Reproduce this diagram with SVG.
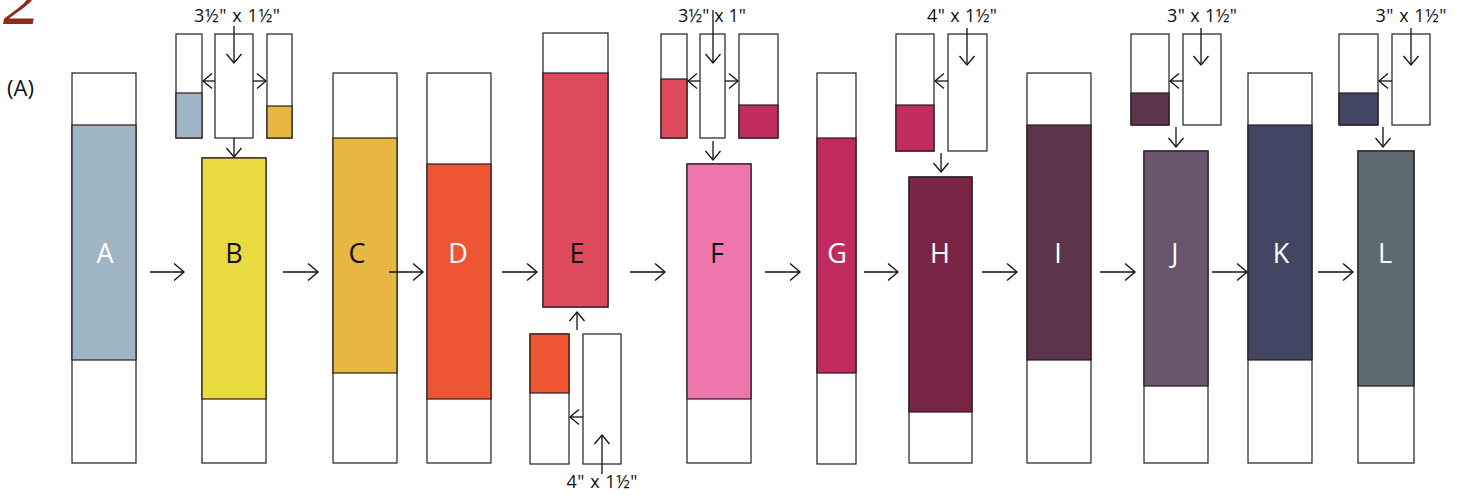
<svg xmlns="http://www.w3.org/2000/svg" width="1461" height="496" viewBox="0 0 1461 496">
<style>
.box{fill:#fff;stroke:#1e1e1e;stroke-width:1.2}
.col{stroke:#2a1a1e;stroke-width:1.2}
.lbl{font-family:"Open Sans","Noto Sans",sans-serif;font-size:27px;text-anchor:middle}
.dim{font-family:"Open Sans","Noto Sans",sans-serif;font-size:18px;text-anchor:middle;fill:#111}
.ar{stroke:#111;stroke-width:1.3;fill:none}
</style>
<defs>
<marker id="big" markerUnits="userSpaceOnUse" markerWidth="20" markerHeight="20" viewBox="-12 -10 14 20" refX="0" refY="0" orient="auto">
<path d="M-10,-8.5 L0,0 L-10,8.5" fill="none" stroke="#111" stroke-width="1.4"/>
</marker>
<marker id="sm" markerUnits="userSpaceOnUse" markerWidth="20" markerHeight="20" viewBox="-12 -10 14 20" refX="0" refY="0" orient="auto">
<path d="M-9,-7.5 L0,0 L-9,7.5" fill="none" stroke="#111" stroke-width="1.3"/>
</marker>
</defs>
<rect width="1461" height="496" fill="#fff"/>
<text x="3" y="24" font-family="Liberation Serif,serif" font-style="italic" font-size="74" fill="#8c2b22">2</text>
<text x="7" y="96" font-family="Open Sans,sans-serif" font-size="22" fill="#111">(A)</text>

<g id="nodeA"><rect class="box" x="72" y="73" width="64" height="390"/><rect class="col" x="72" y="125" width="64" height="235" fill="#9fb5c3"/><text class="lbl" x="105" y="263" fill="#fff">A</text></g>

<g id="nodeB"><rect class="box" x="202" y="158" width="64" height="305"/><rect class="col" x="202" y="158" width="64" height="241" fill="#e9da3f"/><text class="lbl" x="234" y="263" fill="#111">B</text>
<rect class="box" x="176" y="34" width="26" height="104"/><rect class="col" x="176" y="93" width="26" height="45" fill="#9fb5c3"/>
<rect class="box" x="215" y="34" width="38" height="104"/>
<rect class="box" x="267" y="34" width="25" height="104"/><rect class="col" x="267" y="106" width="25" height="32" fill="#e6b743"/>
<text class="dim" x="237" y="22" textLength="86" lengthAdjust="spacing">3½" x 1½"</text></g>

<g id="nodeC"><rect class="box" x="333" y="73" width="64" height="390"/><rect class="col" x="333" y="138" width="64" height="235" fill="#e6b743"/><text class="lbl" x="357" y="263" fill="#111">C</text></g>

<g id="nodeD"><rect class="box" x="427" y="73" width="64" height="390"/><rect class="col" x="427" y="164" width="64" height="235" fill="#ee5533"/><text class="lbl" x="458" y="263" fill="#fff">D</text></g>

<g id="nodeE"><rect class="box" x="543" y="33" width="65" height="274"/><rect class="col" x="543" y="73" width="65" height="234" fill="#dc4a5b"/><text class="lbl" x="577" y="263" fill="#111">E</text>
<rect class="box" x="530" y="334" width="39" height="130"/><rect class="col" x="530" y="334" width="39" height="59" fill="#ee5533"/>
<rect class="box" x="583" y="334" width="38" height="130"/>
<text class="dim" x="602" y="488" textLength="71" lengthAdjust="spacing">4" x 1½"</text></g>

<g id="nodeF"><rect class="box" x="687" y="164" width="64" height="299"/><rect class="col" x="687" y="164" width="64" height="235" fill="#ee76ad"/><text class="lbl" x="717" y="263" fill="#111">F</text>
<rect class="box" x="661" y="34" width="26" height="104"/><rect class="col" x="661" y="79" width="26" height="59" fill="#dc4a5b"/>
<rect class="box" x="700" y="34" width="25" height="104"/>
<rect class="box" x="739" y="34" width="39" height="104"/><rect class="col" x="739" y="105" width="39" height="33" fill="#c02b60"/>
<text class="dim" x="712" y="22" textLength="68" lengthAdjust="spacing">3½" x 1"</text></g>

<g id="nodeG"><rect class="box" x="817" y="73" width="39" height="391"/><rect class="col" x="817" y="138" width="39" height="235" fill="#bf2b5f"/><text class="lbl" x="837" y="263" fill="#fff">G</text></g>

<g id="nodeH"><rect class="box" x="909" y="177" width="63" height="286"/><rect class="col" x="909" y="177" width="63" height="235" fill="#7a2445"/><text class="lbl" x="940" y="263" fill="#fff">H</text>
<rect class="box" x="896" y="34" width="38" height="117"/><rect class="col" x="896" y="105" width="38" height="46" fill="#c02b60"/>
<rect class="box" x="948" y="34" width="39" height="117"/>
<text class="dim" x="962" y="22" textLength="70" lengthAdjust="spacing">4" x 1½"</text></g>

<g id="nodeI"><rect class="box" x="1027" y="73" width="64" height="390"/><rect class="col" x="1027" y="125" width="64" height="235" fill="#5c344b"/><text class="lbl" x="1058" y="263" fill="#fff">I</text></g>

<g id="nodeJ"><rect class="box" x="1144" y="151" width="64" height="312"/><rect class="col" x="1144" y="151" width="64" height="235" fill="#6a556f"/><text class="lbl" x="1175" y="263" fill="#fff">J</text>
<rect class="box" x="1131" y="34" width="38" height="91"/><rect class="col" x="1131" y="93" width="38" height="32" fill="#5c344b"/>
<rect class="box" x="1183" y="34" width="38" height="91"/>
<text class="dim" x="1202" y="22" textLength="70" lengthAdjust="spacing">3" x 1½"</text></g>

<g id="nodeK"><rect class="box" x="1248" y="73" width="64" height="390"/><rect class="col" x="1248" y="125" width="64" height="235" fill="#434662"/><text class="lbl" x="1281" y="263" fill="#fff">K</text></g>

<g id="nodeL"><rect class="box" x="1358" y="151" width="56" height="312"/><rect class="col" x="1358" y="151" width="56" height="235" fill="#5d6a6f"/><text class="lbl" x="1385" y="263" fill="#fff">L</text>
<rect class="box" x="1339" y="34" width="39" height="91"/><rect class="col" x="1339" y="93" width="39" height="32" fill="#434662"/>
<rect class="box" x="1392" y="34" width="38" height="91"/>
<text class="dim" x="1411" y="22" textLength="71" lengthAdjust="spacing">3" x 1½"</text></g>

<g id="connectors">
<path class="ar" marker-end="url(#big)" d="M150,272H184"/>
<path class="ar" marker-end="url(#big)" d="M283,272H318"/>
<path class="ar" marker-end="url(#big)" d="M389,272H423"/>
<path class="ar" marker-end="url(#big)" d="M502,272H537"/>
<path class="ar" marker-end="url(#big)" d="M630,272H665"/>
<path class="ar" marker-end="url(#big)" d="M765,272H800"/>
<path class="ar" marker-end="url(#big)" d="M864,272H898"/>
<path class="ar" marker-end="url(#big)" d="M982,272H1017"/>
<path class="ar" marker-end="url(#big)" d="M1100,272H1135"/>
<path class="ar" marker-end="url(#big)" d="M1212,272H1247"/>
<path class="ar" marker-end="url(#big)" d="M1318,272H1353"/>
<path class="ar" marker-end="url(#sm)" d="M234,26V63"/>
<path class="ar" marker-end="url(#sm)" d="M215,81H203"/>
<path class="ar" marker-end="url(#sm)" d="M253,81H266"/>
<path class="ar" marker-end="url(#sm)" d="M234,138V157"/>
<path class="ar" marker-end="url(#sm)" d="M577,330V312"/>
<path class="ar" marker-end="url(#sm)" d="M583,417H570"/>
<path class="ar" marker-end="url(#sm)" d="M602,474V435"/>
<path class="ar" marker-end="url(#sm)" d="M713,10V63"/>
<path class="ar" marker-end="url(#sm)" d="M700,81H688"/>
<path class="ar" marker-end="url(#sm)" d="M725,81H738"/>
<path class="ar" marker-end="url(#sm)" d="M713,141V160"/>
<path class="ar" marker-end="url(#sm)" d="M967,28V65"/>
<path class="ar" marker-end="url(#sm)" d="M948,81H935"/>
<path class="ar" marker-end="url(#sm)" d="M941,153V172"/>
<path class="ar" marker-end="url(#sm)" d="M1201,28V65"/>
<path class="ar" marker-end="url(#sm)" d="M1183,81H1170"/>
<path class="ar" marker-end="url(#sm)" d="M1176,127V147"/>
<path class="ar" marker-end="url(#sm)" d="M1411,28V65"/>
<path class="ar" marker-end="url(#sm)" d="M1392,81H1379"/>
<path class="ar" marker-end="url(#sm)" d="M1383,127V147"/>
</g>
</svg>
